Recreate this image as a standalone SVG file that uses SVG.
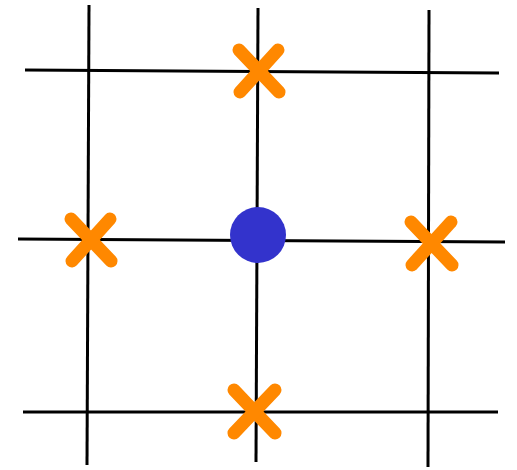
<svg xmlns="http://www.w3.org/2000/svg" width="517" height="470" viewBox="0 0 517 470">
<style>
.g{stroke:#000;stroke-width:3;fill:none;stroke-linecap:butt}
.x{stroke:#FF8800;stroke-width:13;stroke-linecap:round;fill:none}
</style>
<rect width="517" height="470" fill="#fff"/>
<g id="grid" class="g">
<line x1="89" y1="5" x2="87" y2="465"/>
<line x1="258" y1="8" x2="256" y2="462"/>
<line x1="429" y1="10" x2="428" y2="467"/>
<line x1="25" y1="70" x2="499" y2="73"/>
<line x1="18" y1="239" x2="505" y2="242"/>
<line x1="23" y1="412" x2="498" y2="412"/>
</g>
<g id="x-top" class="x">
<line x1="239" y1="50" x2="279" y2="92"/>
<line x1="278" y1="50" x2="240" y2="92"/>
</g>
<g id="x-left" class="x">
<line x1="71" y1="219" x2="111" y2="261"/>
<line x1="110" y1="219" x2="72" y2="261"/>
</g>
<g id="x-right" class="x">
<line x1="411" y1="222" x2="452" y2="265"/>
<line x1="451" y1="222" x2="412" y2="265"/>
</g>
<g id="x-bottom" class="x">
<line x1="234" y1="390" x2="275" y2="433"/>
<line x1="275" y1="390" x2="234" y2="433"/>
</g>
<g id="dot">
<circle cx="258" cy="235" r="28" fill="#3333CC"/>
</g>
</svg>
